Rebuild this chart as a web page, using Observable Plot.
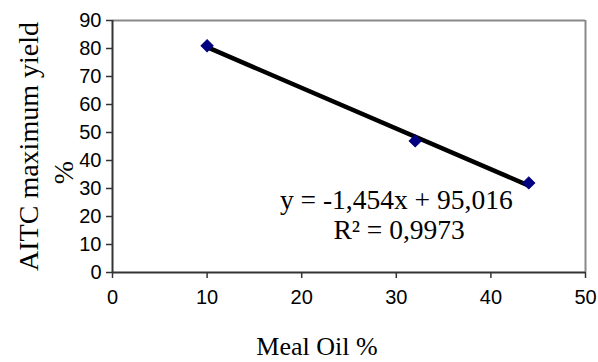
<!DOCTYPE html>
<html>
<head>
<meta charset="utf-8">
<script src="https://cdn.jsdelivr.net/npm/d3@7"></script>
<script src="https://cdn.jsdelivr.net/npm/@observablehq/plot@0.6"></script>
<style>
  html, body { margin: 0; padding: 0; background: #fff; }
  #chart { width: 598px; height: 362px; overflow: hidden; }
</style>
</head>
<body>
<div id="chart"></div>
<script>
// Data
const mealOil = [10, 32, 44];
const aitcYield = [81, 47, 32];
const trendSlope = -1.454;
const trendIntercept = 95.016;
const trendRange = [10, 44];
const xTicks = [0, 10, 20, 30, 40, 50];
const yTicks = [0, 10, 20, 30, 40, 50, 60, 70, 80, 90];
const equationText = "y = -1,454x + 95,016";
const r2Text = "R² = 0,9973";
const xTitle = "Meal Oil %";
const yTitleLine1 = "AITC maximum yield";
const yTitleLine2 = "%";

const points = mealOil.map((x, i) => ({x, y: aitcYield[i]}));
const trend = trendRange.map(x => ({x, y: trendSlope * x + trendIntercept}));
const serif = "'Liberation Serif', 'Times New Roman', serif";

const chart = Plot.plot({
  width: 598,
  height: 362,
  marginLeft: 112,
  marginRight: 13,
  marginTop: 20,
  marginBottom: 90,
  style: {fontFamily: "'Liberation Sans', Arial, sans-serif", fontSize: "20px", color: "#000", background: "#fff"},
  x: {domain: [0, 50], ticks: xTicks},
  y: {domain: [0, 90], ticks: yTicks},
  marks: [
    // plot area border (top/right grey)
    Plot.ruleY([90], {stroke: "#888", strokeWidth: 2}),
    Plot.ruleX([50], {stroke: "#888", strokeWidth: 2}),
    // axes
    Plot.ruleY([0], {stroke: "#333", strokeWidth: 2}),
    Plot.ruleX([0], {stroke: "#333", strokeWidth: 2}),
    Plot.axisX({ticks: xTicks, tickSize: 6, tickPadding: 11, stroke: "#333", strokeWidth: 1.5, label: null, fontSize: 20, fill: "#000"}),
    Plot.axisY({ticks: yTicks, tickSize: 6, tickPadding: 5, stroke: "#333", strokeWidth: 1.5, label: null, fontSize: 20, fill: "#000"}),
    // trendline
    Plot.line(trend, {x: "x", y: "y", stroke: "#000", strokeWidth: 4.5}),
    // markers
    Plot.dot(points, {x: "x", y: "y", symbol: "square", rotate: 45, fill: "#000080", stroke: "#000080", strokeWidth: 1, r: 4.8}),
    // equation
    Plot.text([equationText], {x: () => 30.0, y: () => 25.8, text: d => d, fontFamily: serif, fontSize: 27.5, fill: "#000"}),
    Plot.text([r2Text], {x: () => 30.3, y: () => 15.2, text: d => d, fontFamily: serif, fontSize: 27.5, fill: "#000"}),
    // axis titles
    Plot.text([xTitle], {frameAnchor: "bottom", text: d => d, textAnchor: "middle", lineAnchor: "middle", dy: 74, dx: -32, fontFamily: serif, fontSize: 26, fill: "#000"}),
    Plot.text([yTitleLine1], {frameAnchor: "left", text: d => d, textAnchor: "middle", lineAnchor: "middle", rotate: -90, dx: -83, dy: 0, fontFamily: serif, fontSize: 28, fill: "#000"}),
    Plot.text([yTitleLine2], {frameAnchor: "left", text: d => d, textAnchor: "middle", lineAnchor: "middle", rotate: -90, dx: -48, dy: 26, fontFamily: serif, fontSize: 28, fill: "#000"})
  ]
});
document.getElementById("chart").appendChild(chart);
</script>
</body>
</html>
